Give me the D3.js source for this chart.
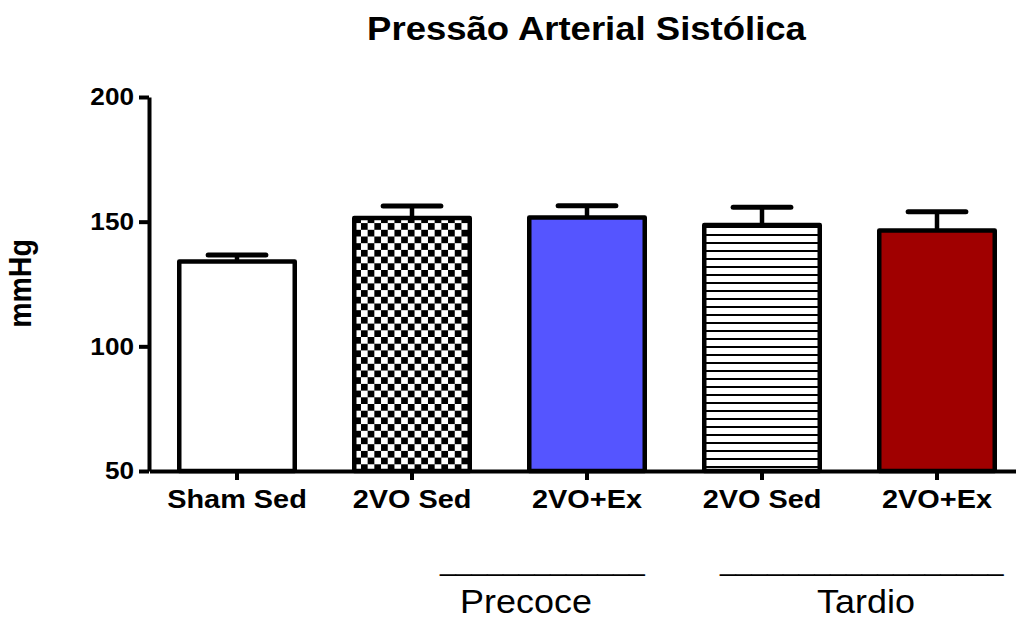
<!DOCTYPE html>
<html>
<head>
<meta charset="utf-8">
<script src="https://cdn.jsdelivr.net/npm/d3@7/dist/d3.min.js"></script>
<style>
  html, body { margin: 0; padding: 0; background: #fff; }
  svg { display: block; font-family: "Liberation Sans", Arial, Helvetica, sans-serif; }
</style>
</head>
<body>
<svg id="chart" width="1016" height="619"></svg>
<script>
// Systolic blood pressure per group (mean and SEM, mmHg)
const groups = ["Sham Sed", "2VO Sed", "2VO+Ex", "2VO Sed", "2VO+Ex"];
const means = [134, 151.5, 151.7, 148.7, 146.5];
const sems = [2.6, 4.8, 4.7, 7.1, 7.5];
const fills = ["white", "url(#checker)", "#5555FF", "url(#hstripes)", "#A00000"];
const yTicks = [50, 100, 150, 200];
const periodLabels = ["Precoce", "Tardio"];
const periodRules = ["_____________", "__________________"];

const SX = 1.09; // horizontal glyph stretch
const svg = d3.select("#chart");

const x = d3.scaleBand()
  .domain(d3.range(groups.length))
  .range([149.5, 1024.5])
  .paddingInner(0.34)
  .paddingOuter(0.17);

const y = d3.scaleLinear().domain([50, 200]).range([471, 97]);

// fill patterns
const defs = svg.append("defs");
const checker = defs.append("pattern")
  .attr("id", "checker")
  .attr("patternUnits", "userSpaceOnUse")
  .attr("x", x(1)).attr("y", y(50))
  .attr("width", 13.4).attr("height", 13.4);
checker.append("rect").attr("width", 13.4).attr("height", 13.4).attr("fill", "white");
checker.append("rect").attr("width", 6.7).attr("height", 6.7).attr("fill", "black");
checker.append("rect").attr("x", 6.7).attr("y", 6.7).attr("width", 6.7).attr("height", 6.7).attr("fill", "black");

const stripes = defs.append("pattern")
  .attr("id", "hstripes")
  .attr("patternUnits", "userSpaceOnUse")
  .attr("x", 0).attr("y", y(50))
  .attr("width", 8).attr("height", 8);
stripes.append("rect").attr("width", 8).attr("height", 8).attr("fill", "white");
stripes.append("rect").attr("y", 3).attr("width", 8).attr("height", 2).attr("fill", "black");

const data = groups.map((g, i) => ({ i, g, m: means[i], s: sems[i], f: fills[i] }));

// error bars (upper only)
const eb = svg.append("g").attr("stroke", "black").attr("fill", "none");
data.forEach(d => {
  const cx = x(d.i) + x.bandwidth() / 2;
  eb.append("line")
    .attr("x1", cx).attr("x2", cx)
    .attr("y1", y(d.m)).attr("y2", y(d.m + d.s))
    .attr("stroke-width", 4.5);
  eb.append("line")
    .attr("x1", cx - x.bandwidth() / 4).attr("x2", cx + x.bandwidth() / 4)
    .attr("y1", y(d.m + d.s)).attr("y2", y(d.m + d.s))
    .attr("stroke-width", 5).attr("stroke-linecap", "round");
});

// bars
svg.append("g").selectAll("rect").data(data).join("rect")
  .attr("x", d => x(d.i))
  .attr("width", x.bandwidth())
  .attr("y", d => y(d.m))
  .attr("height", d => y(50) - y(d.m))
  .attr("fill", d => d.f)
  .attr("stroke", "black")
  .attr("stroke-width", 4.5)
  .attr("stroke-linejoin", "round");

function stretchTexts(sel) {
  sel.each(function () {
    const t = d3.select(this);
    const tx = +t.attr("x") || 0;
    t.attr("transform", `translate(${tx * (1 - SX)},0) scale(${SX},1)`);
  });
}

// y axis
const yAxis = svg.append("g")
  .attr("transform", `translate(149,0)`)
  .call(d3.axisLeft(y).tickValues(yTicks).tickSize(10).tickSizeOuter(0).tickPadding(5));
yAxis.selectAll("path, line").attr("stroke", "black").attr("stroke-width", 4);
yAxis.selectAll("text")
  .attr("font-size", 24).attr("font-weight", "bold").attr("fill", "black")
  .attr("font-family", "Liberation Sans, Arial, sans-serif")
  .call(stretchTexts);

// x axis
const xAxis = svg.append("g")
  .attr("transform", `translate(0,${y(50)})`)
  .call(d3.axisBottom(x).tickSize(9).tickSizeOuter(0).tickFormat(i => groups[i]));
xAxis.select(".domain").attr("stroke", "black").attr("stroke-width", 4);
xAxis.selectAll(".tick line").attr("stroke", "black").attr("stroke-width", 4);
xAxis.selectAll("text")
  .attr("y", 37).attr("dy", 0)
  .attr("font-size", 26.5).attr("font-weight", "bold").attr("fill", "black")
  .attr("font-family", "Liberation Sans, Arial, sans-serif")
  .call(stretchTexts);

// title
svg.append("text")
  .attr("transform", `translate(586.5,40) scale(${SX},1)`)
  .attr("text-anchor", "middle")
  .attr("font-size", 33.5).attr("font-weight", "bold")
  .text("Pressão Arterial Sistólica");

// y label
svg.append("text")
  .attr("transform", `translate(31,283.5) rotate(-90) scale(1,${SX})`)
  .attr("text-anchor", "middle")
  .attr("font-size", 28.5).attr("font-weight", "bold")
  .text("mmHg");

// period groupings under the axis
const ruleStarts = [440, 720];
const labelCenters = [526, 866];
periodRules.forEach((r, k) => {
  svg.append("text")
    .attr("transform", `translate(${ruleStarts[k]},571) scale(${SX},1)`)
    .attr("font-size", 26)
    .text(r);
});
periodLabels.forEach((p, k) => {
  svg.append("text")
    .attr("transform", `translate(${labelCenters[k]},613) scale(${SX},1)`)
    .attr("text-anchor", "middle")
    .attr("font-size", 33)
    .text(p);
});
</script>
</body>
</html>
